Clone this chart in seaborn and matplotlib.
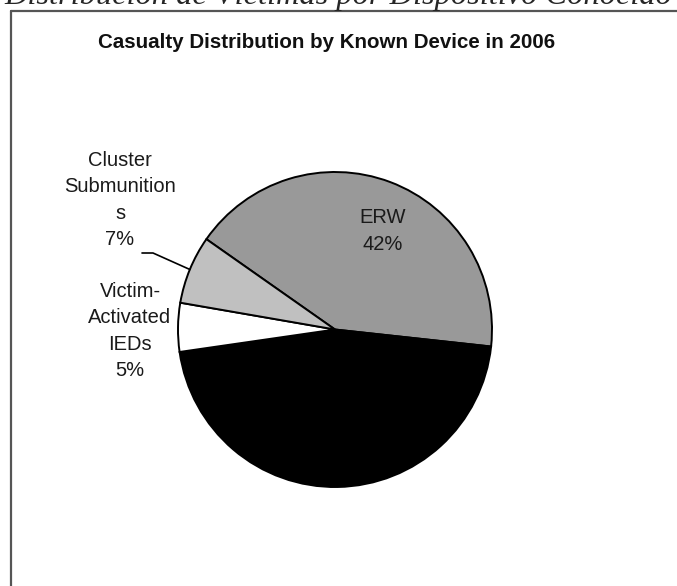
import numpy as np
import matplotlib
matplotlib.use("Agg")
import matplotlib.pyplot as plt
import seaborn as sns
from matplotlib.lines import Line2D

devices = ["ERW", "Mines", "Victim-\nActivated\nIEDs", "Cluster\nSubmunition\ns"]
shares = [42, 46, 5, 7]
slice_colors = ["#999999", "#000000", "#ffffff", "#c0c0c0"]

sns.set_theme(style="white")
plt.rcParams["font.family"] = ["Liberation Sans", "DejaVu Sans"]

W, H = 677, 586
fig = plt.figure(figsize=(W / 100, H / 100), dpi=100)


def fx(x):
    return x / W


def fy(y):
    return 1 - y / H


# pie axes, boxed by a thin grey plot-area frame
ax = fig.add_axes([fx(178), fy(487), fx(492) - fx(178), fy(172) - fy(487)])
wedges, _ = ax.pie(shares, colors=slice_colors, startangle=145, counterclock=False,
                   wedgeprops=dict(edgecolor="black", linewidth=1.4))
ax.set_xlim(-1, 1)
ax.set_ylim(-1, 1)
ax.set_aspect("auto")
for s in ax.spines.values():
    s.set_visible(True)
    s.set_color("#d0d0d0")
    s.set_linewidth(0.8)

# outer chart border (cut off at right and bottom)
fig.add_artist(Line2D([fx(11), fx(11)], [fy(11), 0], color="#555555", lw=1.6))
fig.add_artist(Line2D([fx(11), 1], [fy(11), fy(11)], color="#555555", lw=1.6))

fig.text(fx(4), fy(4), "Distribución de Víctimas por Dispositivo Conocido",
         family="Liberation Serif", style="italic", fontsize=23.3, va="baseline", ha="left")
fig.text(fx(327), fy(43), "Casualty Distribution by Known Device in 2006",
         fontweight="bold", fontsize=14.8, ha="center", va="center", color="#111111")

lab = dict(ha="center", va="center", fontsize=14.5, linespacing=1.5, color="#1a1a1a")
pct = [f"{v}%" for v in shares]
fig.text(fx(383), fy(231), f"{devices[0]}\n{pct[0]}", **lab)
fig.text(fx(330), fy(420), f"{devices[1]}\n{pct[1]}", **{**lab, "color": "black"})
fig.text(fx(130), fy(331), f"{devices[2]}\n{pct[2]}", **lab)
fig.text(fx(120), fy(200), f"{devices[3]}\n{pct[3]}", **lab)

# leader line to the cluster slice
w = wedges[3]
th = np.deg2rad((w.theta1 + w.theta2) / 2)
ex, ey = w.r * np.cos(th), w.r * np.sin(th)
pt = fig.transFigure.inverted().transform(ax.transData.transform((ex, ey)))
fig.add_artist(Line2D([fx(142), fx(153), pt[0]], [fy(253), fy(253), pt[1]],
                      color="black", lw=1.2))

fig.savefig("out.png", dpi=100)
